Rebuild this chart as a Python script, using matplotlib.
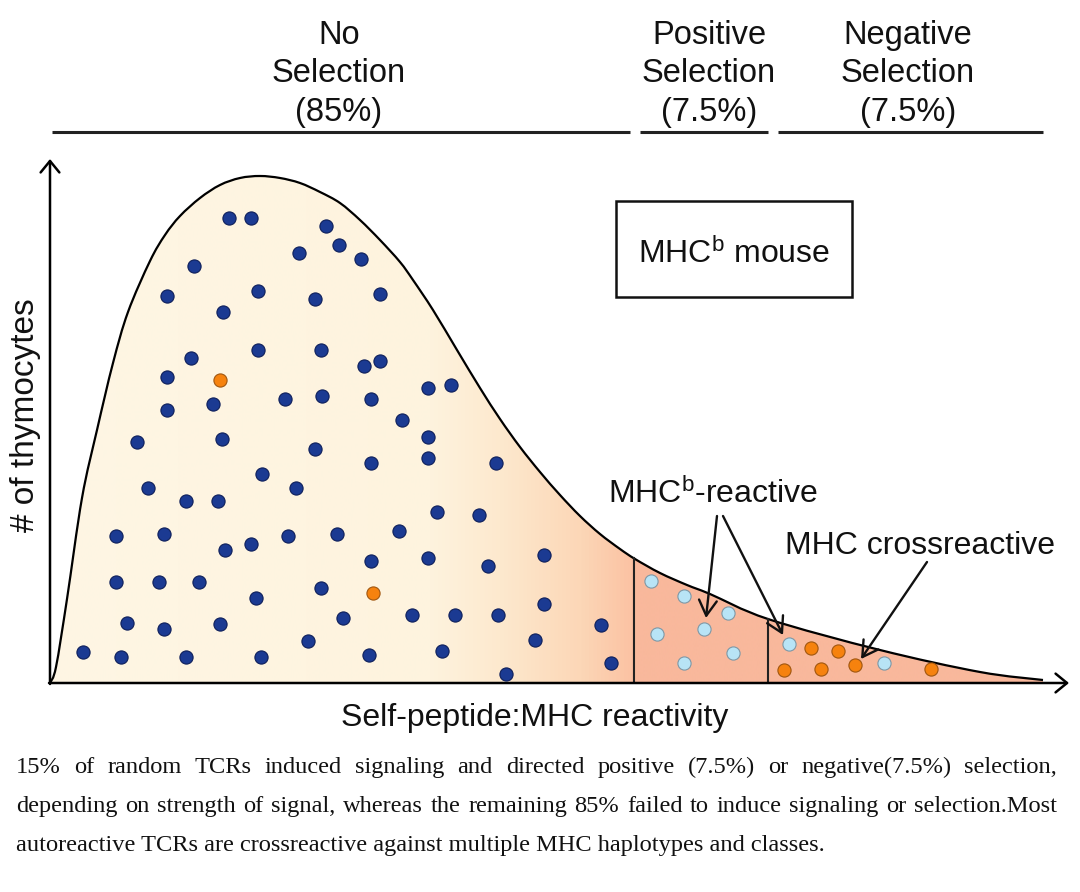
import numpy as np
import matplotlib
matplotlib.use('Agg')
import matplotlib.pyplot as plt
from matplotlib.colors import LinearSegmentedColormap
from matplotlib.patches import PathPatch, Rectangle
from matplotlib.path import Path

plt.rcParams['font.family'] = ['Liberation Sans', 'DejaVu Sans']
plt.rcParams['mathtext.fontset'] = 'custom'
plt.rcParams['mathtext.rm'] = 'Liberation Sans'
plt.rcParams['mathtext.it'] = 'Liberation Sans:italic'

# ---------------- data (reactivity units, thymocyte-count units) ----------------
curve_x = [0, 6, 17, 32, 47, 63, 78, 100, 115, 130,
           150, 170, 190, 210, 230, 250, 270, 290, 310, 330,
           350, 363, 383, 407, 430, 450, 470, 490, 510, 530,
           550, 570, 585, 610, 637, 660, 718, 830, 930, 993]
curve_y = [0, 16, 84, 185, 253, 320, 371, 422, 448, 467,
           485, 498, 505, 507, 505, 500, 491, 480, 463, 443,
           421, 403, 373, 333, 295, 264, 236, 211, 188, 167,
           149, 134, 124, 110, 98, 89, 64, 33, 11, 3]

boundaries = [584, 718]

# No-selection thymocytes (dark blue)
blue_x = [179, 201, 276, 289, 249, 311, 144, 117, 208, 265, 330, 173, 208, 271, 141,
          314, 330, 117, 378, 401, 117, 163, 235, 272, 321, 352, 378, 87, 172, 265,
          321, 378, 446, 212, 98, 246, 136, 168, 387, 429, 66, 114, 238, 287, 349,
          175, 201, 321, 378, 494, 438, 66, 109, 149, 271, 206, 494, 77, 114, 170,
          293, 362, 405, 448, 551, 258, 485, 33, 71, 136, 211, 319, 392, 561, 456]
blue_y = [465, 465, 457, 438, 430, 424, 417, 387, 392, 384, 389, 371, 333, 333, 325,
          317, 322, 306, 295, 298, 273, 279, 284, 287, 284, 263, 246, 241, 244, 234,
          220, 225, 220, 209, 195, 195, 182, 182, 171, 168, 147, 149, 147, 149, 152,
          133, 139, 122, 125, 128, 117, 101, 101, 101, 95, 85, 79, 60, 54, 59,
          65, 68, 68, 68, 58, 42, 43, 31, 26, 26, 26, 28, 32, 20, 9]

# MHC^b-reactive thymocytes (light blue)
light_x = [601, 634, 678, 654, 607, 683, 634, 739, 834]
light_y = [102, 87, 70, 54, 49, 30, 20, 39, 20]

# MHC cross-reactive thymocytes (orange)
orange_x = [170, 323, 761, 788, 734, 771, 805, 881]
orange_y = [303, 90, 35, 32, 13, 14, 18, 14]

section_labels = ['No\nSelection\n(85%)', 'Positive\nSelection\n(7.5%)',
                  'Negative\nSelection\n(7.5%)']
box_label = r'MHC$^{\mathrm{b}}$ mouse'
reactive_label = r'MHC$^{\mathrm{b}}$-reactive'
cross_label = 'MHC crossreactive'
xlabel = 'Self-peptide:MHC reactivity'
ylabel = '# of thymocytes'
caption = ['15% of random TCRs induced signaling and directed positive (7.5%) or negative(7.5%) selection,',
           'depending on strength of signal, whereas the remaining 85% failed to induce signaling or selection.Most',
           'autoreactive TCRs are crossreactive against multiple MHC haplotypes and classes.']
caption_justify = [True, True, False]


def smooth_path(xs, ys, close_to_base=False):
    """Catmull-Rom rendering through the given points as cubic Bezier segments."""
    P = np.column_stack([xs, ys]).astype(float)
    n = len(P)
    verts = [P[0]]
    codes = [Path.MOVETO]
    for i in range(n - 1):
        p0 = P[i - 1] if i > 0 else P[i]
        p1, p2 = P[i], P[i + 1]
        p3 = P[i + 2] if i + 2 < n else P[i + 1]
        c1 = p1 + (p2 - p0) / 6.0
        c2 = p2 - (p3 - p1) / 6.0
        verts += [c1, c2, p2]
        codes += [Path.CURVE4] * 3
    if close_to_base:
        verts += [(P[-1][0], 0), (P[0][0], 0), P[0]]
        codes += [Path.LINETO, Path.LINETO, Path.CLOSEPOLY]
    return Path(verts, codes)


# ---------------- figure ----------------
W, H = 1080, 892
fig = plt.figure(figsize=(W / 100, H / 100), dpi=100)
fig.patch.set_facecolor('white')

ax = fig.add_axes([50 / W, (H - 683) / H, 1020 / W, 525 / H])
ax.set_xlim(0, 1020)
ax.set_ylim(0, 525)
ax.set_axis_off()

# filled area with gradient
fill_patch = PathPatch(smooth_path(curve_x, curve_y, close_to_base=True),
                       facecolor='none', edgecolor='none')
ax.add_patch(fill_patch)
xmax = curve_x[-1]
cmap = LinearSegmentedColormap.from_list('thymo', [
    (0.0, '#FEF6E4'), (380 / xmax, '#FEF3DE'), (450 / xmax, '#FDE9CE'),
    (530 / xmax, '#FCD7B7'), (583 / xmax, '#FBC2A3'), (585 / xmax, '#F9B89C'),
    (1.0, '#F9B89C')])
grad = np.linspace(0, 1, 1024).reshape(1, -1)
im = ax.imshow(grad, extent=[0, xmax, 0, 525], aspect='auto', cmap=cmap,
               origin='lower', zorder=1, interpolation='bilinear')
im.set_clip_path(fill_patch)

ax.add_patch(PathPatch(smooth_path(curve_x, curve_y), facecolor='none',
                       edgecolor='black', lw=1.6, zorder=3))

for b in boundaries:
    h = np.interp(b, curve_x, curve_y)
    ax.plot([b, b], [0, h], color='#222222', lw=1.5, zorder=3)

# axes arrows
arrow_axis = dict(arrowstyle='->,head_length=0.55,head_width=0.45', lw=1.8,
                  color='black', shrinkA=0, shrinkB=0, mutation_scale=15)
ax.annotate('', xy=(0, 524), xytext=(0, -1), arrowprops=arrow_axis, zorder=4)
ax.annotate('', xy=(1019, 0), xytext=(-1, 0), arrowprops=arrow_axis, zorder=4)

# dots
ax.scatter(blue_x, blue_y, s=90, facecolor='#1B3A92', edgecolor='#0E1F5A', lw=0.8, zorder=5)
ax.scatter(light_x, light_y, s=90, facecolor='#B8E4F6', edgecolor='#7E98A6', lw=0.8, zorder=5)
ax.scatter(orange_x, orange_y, s=90, facecolor='#F6820E', edgecolor='#A0560F', lw=0.8, zorder=5)

# annotation arrows
arrow_pt = dict(arrowstyle='->,head_length=0.55,head_width=0.32', lw=1.7,
                color='#111111', shrinkA=0, shrinkB=0, mutation_scale=20)
ax.annotate('', xy=(656, 65), xytext=(667, 167), arrowprops=arrow_pt, zorder=6)
ax.annotate('', xy=(733, 48), xytext=(673, 167), arrowprops=arrow_pt, zorder=6)
ax.annotate('', xy=(811, 24), xytext=(877, 121), arrowprops=arrow_pt, zorder=6)

# ---------------- overlay in pixel space ----------------
ov = fig.add_axes([0, 0, 1, 1])
ov.set_xlim(0, W)
ov.set_ylim(H, 0)
ov.set_axis_off()

label_cx = [339, 709, 908]
seg_lines = [(52, 630), (640, 768), (778, 1043)]
for lab, cx in zip(section_labels, label_cx):
    ov.text(cx, 74, lab, ha='center', va='center', fontsize=23.5,
            linespacing=1.3, color='#111111')
for x0, x1 in seg_lines:
    ov.plot([x0, x1], [132, 132], color='#222222', lw=2.2, solid_capstyle='butt')

ov.add_patch(Rectangle((616, 201), 236, 96, fill=False, lw=1.8, edgecolor='#111111'))
ov.text(734, 263, box_label, ha='center', va='baseline', fontsize=23, color='#111111')

ov.text(713, 503, reactive_label, ha='center', va='baseline', fontsize=23, color='#111111')
ov.text(920, 554, cross_label, ha='center', va='baseline', fontsize=23, color='#111111')

ov.text(535, 718, xlabel, ha='center', va='center', fontsize=23, color='#111111')
ov.text(26, 415, ylabel, ha='center', va='center', rotation=90, fontsize=24, color='#111111')

# caption: justified lines (words spread between left and right margins)
renderer = fig.canvas.get_renderer()
cap_kw = dict(va='baseline', fontsize=17.6, family=['Liberation Serif', 'DejaVu Serif'],
              color='#111111')
left, right = 16, 1057
for i, (line, just) in enumerate(zip(caption, caption_justify)):
    y = 773 + i * 39
    if not just:
        ov.text(left, y, line, ha='left', **cap_kw)
        continue
    words = line.split(' ')
    arts = [ov.text(0, y, w, ha='left', **cap_kw) for w in words]
    widths = [a.get_window_extent(renderer).width for a in arts]
    gap = (right - left - sum(widths)) / (len(words) - 1)
    x = left
    for a, wdt in zip(arts, widths):
        a.set_x(x)
        x += wdt + gap

fig.savefig('out.png', dpi=100, facecolor='white')
